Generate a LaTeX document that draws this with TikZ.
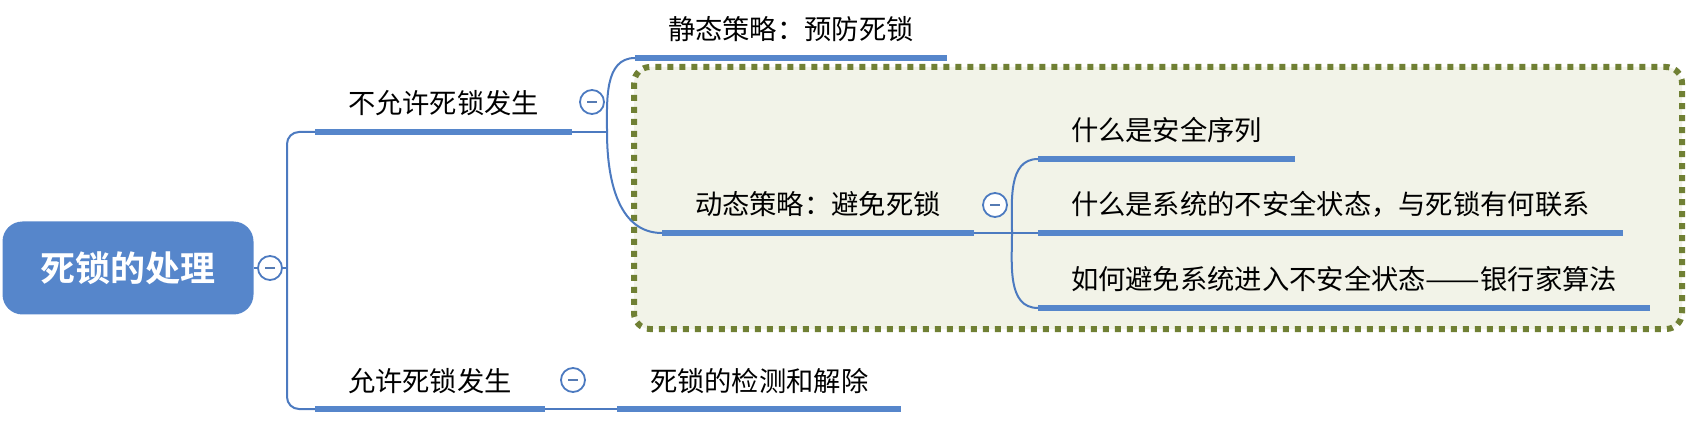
\documentclass[tikz,border=0pt]{standalone}
\usepackage{fontspec}
\setmainfont{Noto Sans CJK SC}[BoldFont={Noto Sans CJK SC Bold}]
\definecolor{mapblue}{RGB}{86,134,203}
\definecolor{linkblue}{RGB}{76,122,192}
\definecolor{grpolive}{RGB}{112,128,52}
\definecolor{grpfill}{RGB}{242,243,232}
\tikzset{
  root/.style={rounded corners=20pt, fill=mapblue, text=white, minimum width=251pt, minimum height=93pt, font=\fontsize{35}{40}\selectfont\bfseries},
  topic/.style={anchor=south west, outer sep=0pt, inner xsep=33pt, inner ysep=14pt, text height=20pt, text depth=4pt, font=\fontsize{27.3}{30}\selectfont},
  uline/.style={mapblue, line width=6pt},
  link/.style={linkblue, line width=2pt},
  grp/.style={draw=grpolive, fill=grpfill, line width=6pt, dash pattern=on 6pt off 6pt, rounded corners=16pt},
  fold/.style={circle, draw=linkblue, line width=1.8pt, fill=white, minimum size=24pt, inner sep=0pt,
    path picture={\draw[linkblue!80!gray, line width=2pt] ([xshift=-5pt]path picture bounding box.center) -- ([xshift=5pt]path picture bounding box.center);}}
}
\begin{document}
\begin{tikzpicture}[x=1pt,y=-1pt]
        \useasboundingbox (0,0) rectangle (1693,427);
        % group
        \draw[grp] (634,67) rectangle (1682,329);

        % root
        \node[root] (root) at (128,268) {死锁的处理};
        \node[fold] (rootfold) at (270,268) {};
        \coordinate (trunk) at (287,268);

        % not allowed
        \node[topic] (nodl) at (315,132) {不允许死锁发生};
        \node[fold] (nodlfold) at (592,102) {};
        \coordinate (nodlfork) at (607,132);
        \node[topic] (stat) at (635,58) {静态策略：预防死锁};
        \node[topic] (dyn) at (662,233) {动态策略：避免死锁};
        \node[fold] (dynfold) at (995,205) {};
        \coordinate (dynfork) at (1012,233);
        \node[topic] (safe) at (1038,159) {什么是安全序列};
        \node[topic] (unsafe) at (1038,233) {什么是系统的不安全状态，与死锁有何联系};
        \node[topic] (bank) at (1038,308) {如何避免系统进入不安全状态\resizebox{2em}{\height}{——}银行家算法};

        % allowed
        \node[topic] (allow) at (315,409) {允许死锁发生};
        \node[fold] (allowfold) at (573,380) {};
        \node[topic] (detect) at (617,409) {死锁的检测和解除};

        % links
        \draw[link] (root.east) -- (rootfold.west);
        \draw[link] (rootfold.east) -- (trunk);
        \draw[link, rounded corners=12pt] (nodl.south west) -| (trunk) |- (allow.south west);
        \draw[link] (nodl.south east) -- (nodlfork);
        \draw[link] (nodlfork) to[out=90,in=180] (stat.south west);
        \draw[link] (nodlfork) to[out=-90,in=180] (dyn.south west);
        \draw[link] (dyn.south east) -- (unsafe.south west);
        \draw[link] (dynfork) to[out=90,in=180] (safe.south west);
        \draw[link] (dynfork) to[out=-90,in=180] (bank.south west);
        \draw[link] (allow.south east) -- (detect.south west);

        % underlines
        \foreach \n in {nodl,stat,dyn,safe,unsafe,bank,allow,detect}
          \draw[uline] (\n.south west) -- (\n.south east);
\end{tikzpicture}
\end{document}
